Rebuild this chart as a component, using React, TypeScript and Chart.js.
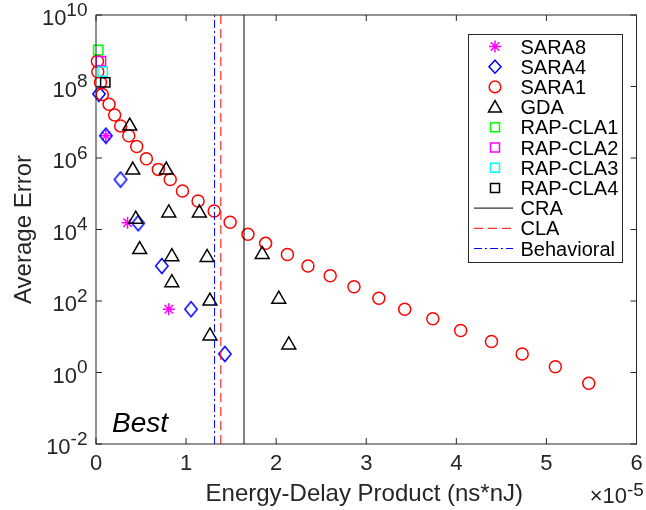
import { useEffect, useRef } from "react";
import { Chart, registerables } from "chart.js";

Chart.register(...registerables);

// Energy-delay product in units of 1e-5 ns*nJ, average error on a log axis
const sara8Edp = [0.11, 0.35, 0.808];
const sara8Err = [4.2e6, 1.55e4, 59];

const sara4Edp = [0.033, 0.11, 0.272, 0.469, 0.731, 1.055, 1.43];
const sara4Err = [6.2e7, 4.2e6, 2.5e5, 1.5e4, 955, 59, 3.3];

const sara1Edp = [
  0.016, 0.02, 0.05, 0.07, 0.145, 0.207, 0.274, 0.364, 0.452, 0.559,
  0.692, 0.824, 0.96, 1.133, 1.312, 1.489, 1.687, 1.883, 2.125, 2.353,
  2.6, 2.864, 3.14, 3.427, 3.739, 4.048, 4.39, 4.731, 5.099, 5.47,
];
const sara1Err = [
  5.1e8, 2.6e8, 1.3e8, 6.0e7, 3.2e7, 1.6e7, 7.9e6, 4.2e6, 2.1e6, 9.5e5,
  4.8e5, 2.5e5, 1.2e5, 6.3e4, 3.3e4, 1.6e4, 7.4e3, 4.1e3, 2.0e3, 950,
  510, 250, 120, 59, 32, 15, 7.4, 3.3, 1.45, 0.5,
];

const gdaEdp = [
  0.375, 0.408, 0.78, 0.441, 0.808, 1.147, 0.485, 0.842, 1.233, 0.842,
  1.265, 1.265, 1.845, 2.029, 2.14,
];
const gdaErr = [
  7.8e6, 4.6e5, 4.6e5, 1.95e4, 2.9e4, 2.9e4, 2.75e3, 1.74e3, 1.66e3, 324,
  100, 10.5, 2.0e3, 112, 5.9,
];

const rapCla1 = { edp: 0.025, err: 1.05e9 };
const rapCla2 = { edp: 0.055, err: 5.1e8 };
const rapCla3 = { edp: 0.074, err: 2.6e8 };
const rapCla4 = { edp: 0.103, err: 1.3e8 };

// Reference designs drawn as vertical lines
const craEdp = 1.643;
const claEdp = 1.386;
const behavioralEdp = 1.316;

const xMin = 0;
const xMax = 6;
const xTicks = [0, 1, 2, 3, 4, 5, 6];
const xExponent = -5;
const yTickExponents = [-2, 0, 2, 4, 6, 8, 10];

const FONT = '"Liberation Sans", Arial, Helvetica, sans-serif';
const AXIS = "#262626";

const pts = (xs: number[], ys: number[]) => xs.map((x, i) => ({ x, y: ys[i] }));
const vline = (x: number) => [
  { x, y: 10 ** yTickExponents[0] },
  { x, y: 10 ** yTickExponents[yTickExponents.length - 1] },
];

function diamondImage(color: string) {
  const c = document.createElement("canvas");
  c.width = 16;
  c.height = 18;
  const g = c.getContext("2d")!;
  g.strokeStyle = color;
  g.lineWidth = 1.5;
  g.beginPath();
  g.moveTo(8, 1.5);
  g.lineTo(14.2, 9);
  g.lineTo(8, 16.5);
  g.lineTo(1.8, 9);
  g.closePath();
  g.stroke();
  return c;
}

type MarkerKind = "star" | "diamond" | "circle" | "triangle" | "square" | "line";

interface LegendEntry {
  label: string;
  kind: MarkerKind;
  color: string;
  dash?: number[];
}

const legendEntries: LegendEntry[] = [
  { label: "SARA8", kind: "star", color: "#ff00ff" },
  { label: "SARA4", kind: "diamond", color: "#0000ff" },
  { label: "SARA1", kind: "circle", color: "#ff0000" },
  { label: "GDA", kind: "triangle", color: "#000000" },
  { label: "RAP-CLA1", kind: "square", color: "#00ff00" },
  { label: "RAP-CLA2", kind: "square", color: "#ff00ff" },
  { label: "RAP-CLA3", kind: "square", color: "#00ffff" },
  { label: "RAP-CLA4", kind: "square", color: "#000000" },
  { label: "CRA", kind: "line", color: "#000000" },
  { label: "CLA", kind: "line", color: "#ff0000", dash: [9, 5] },
  { label: "Behavioral", kind: "line", color: "#0000ff", dash: [8, 3, 2, 3] },
];

function drawMarker(ctx: CanvasRenderingContext2D, e: LegendEntry, x: number, y: number) {
  ctx.save();
  ctx.strokeStyle = e.color;
  ctx.lineWidth = 1.5;
  ctx.beginPath();
  switch (e.kind) {
    case "star":
      for (let k = 0; k < 4; k++) {
        const a = (k * Math.PI) / 4;
        ctx.moveTo(x - Math.cos(a) * 6, y - Math.sin(a) * 6);
        ctx.lineTo(x + Math.cos(a) * 6, y + Math.sin(a) * 6);
      }
      break;
    case "diamond":
      ctx.moveTo(x, y - 6.5);
      ctx.lineTo(x + 6, y);
      ctx.lineTo(x, y + 6.5);
      ctx.lineTo(x - 6, y);
      ctx.closePath();
      break;
    case "circle":
      ctx.arc(x, y, 5.8, 0, Math.PI * 2);
      break;
    case "triangle":
      ctx.moveTo(x, y - 6.5);
      ctx.lineTo(x + 6.5, y + 5);
      ctx.lineTo(x - 6.5, y + 5);
      ctx.closePath();
      break;
    case "square":
      ctx.rect(x - 4.5, y - 4.5, 9, 9);
      break;
    case "line":
      ctx.lineWidth = 1;
      ctx.setLineDash(e.dash ?? []);
      ctx.moveTo(474, y);
      ctx.lineTo(513, y);
      break;
  }
  ctx.stroke();
  ctx.restore();
}

const framePlugin = {
  id: "matlabFrame",
  afterDraw(chart: Chart) {
    const { ctx, chartArea } = chart;
    const xs = chart.scales.x;
    const ys = chart.scales.y;
    const { left, right, top, bottom } = chartArea;
    ctx.save();

    // axes box
    ctx.strokeStyle = AXIS;
    ctx.lineWidth = 1;
    ctx.strokeRect(left, top, right - left, bottom - top);

    // inward ticks on all four sides
    ctx.beginPath();
    for (const t of xTicks) {
      const px = xs.getPixelForValue(t);
      ctx.moveTo(px, bottom);
      ctx.lineTo(px, bottom - 6);
      ctx.moveTo(px, top);
      ctx.lineTo(px, top + 6);
    }
    for (const e of yTickExponents) {
      const py = ys.getPixelForValue(10 ** e);
      ctx.moveTo(left, py);
      ctx.lineTo(left + 6, py);
      ctx.moveTo(right, py);
      ctx.lineTo(right - 6, py);
    }
    ctx.stroke();

    // x tick labels
    ctx.fillStyle = AXIS;
    ctx.font = `22px ${FONT}`;
    ctx.textAlign = "center";
    ctx.textBaseline = "alphabetic";
    for (const t of xTicks) {
      ctx.fillText(String(t), xs.getPixelForValue(t), 470);
    }

    // y tick labels as powers of ten
    for (const e of yTickExponents) {
      const py = ys.getPixelForValue(10 ** e);
      ctx.font = `19px ${FONT}`;
      ctx.textAlign = "right";
      const expStr = String(e);
      const w = ctx.measureText(expStr).width;
      ctx.fillText(expStr, left - 8.5, py + 0.5);
      ctx.font = `22px ${FONT}`;
      ctx.fillText("10", left - 8.5 - w, py + 10);
    }

    // x axis multiplier
    ctx.font = `19px ${FONT}`;
    ctx.textAlign = "left";
    ctx.fillText(String(xExponent), 627, 496);
    ctx.font = `22px ${FONT}`;
    ctx.textAlign = "right";
    ctx.fillText("\u00d710", 627, 503);

    // axis titles
    ctx.font = `24px ${FONT}`;
    ctx.textAlign = "center";
    ctx.fillText("Energy-Delay Product (ns*nJ)", (left + right) / 2 - 2, 501);
    ctx.save();
    ctx.translate(31, (top + bottom) / 2);
    ctx.rotate(-Math.PI / 2);
    ctx.fillText("Average Error", 0, 0);
    ctx.restore();

    // annotation
    ctx.fillStyle = "#000";
    ctx.font = `italic 28px ${FONT}`;
    ctx.textAlign = "left";
    ctx.fillText("Best", 112, 432);

    // legend
    const bx = 468.5;
    const by = 34.5;
    ctx.fillStyle = "#fff";
    ctx.fillRect(bx, by, 154, 228);
    ctx.strokeStyle = "#262626";
    ctx.lineWidth = 1;
    ctx.strokeRect(bx, by, 154, 228);
    ctx.font = `20px ${FONT}`;
    ctx.textAlign = "left";
    legendEntries.forEach((e, i) => {
      const ry = 46.5 + i * 20.2;
      drawMarker(ctx, e, 495, ry);
      ctx.fillStyle = "#000";
      ctx.fillText(e.label, 520.5, ry + 7);
    });

    ctx.restore();
  },
};

export default function App() {
  const canvasRef = useRef<HTMLCanvasElement | null>(null);

  useEffect(() => {
    const canvas = canvasRef.current;
    if (!canvas) return;

    const marker = (color: string, pointStyle: any, radius: number) => ({
      type: "scatter" as const,
      showLine: false,
      clip: false,
      borderColor: color,
      backgroundColor: "rgba(0,0,0,0)",
      pointBorderColor: color,
      pointBackgroundColor: "rgba(0,0,0,0)",
      pointStyle,
      pointRadius: radius,
      pointBorderWidth: 1.5,
      pointHoverRadius: radius,
    });
    const line = (color: string, dash: number[]) => ({
      type: "scatter" as const,
      showLine: true,
      borderColor: color,
      borderWidth: 1,
      borderDash: dash,
      pointRadius: 0,
      pointHoverRadius: 0,
      fill: false,
    });

    const series: any[] = [
      { label: "SARA8", data: pts(sara8Edp, sara8Err), ...marker("#ff00ff", "star", 6) },
      { label: "SARA4", data: pts(sara4Edp, sara4Err), ...marker("#0000ff", diamondImage("#0000ff"), 7) },
      { label: "SARA1", data: pts(sara1Edp, sara1Err), ...marker("#ff0000", "circle", 6) },
      { label: "GDA", data: pts(gdaEdp, gdaErr), ...marker("#000000", "triangle", 8) },
      { label: "RAP-CLA1", data: [{ x: rapCla1.edp, y: rapCla1.err }], ...marker("#00ff00", "rect", 6.6) },
      { label: "RAP-CLA2", data: [{ x: rapCla2.edp, y: rapCla2.err }], ...marker("#ff00ff", "rect", 6.6) },
      { label: "RAP-CLA3", data: [{ x: rapCla3.edp, y: rapCla3.err }], ...marker("#00ffff", "rect", 6.6) },
      { label: "RAP-CLA4", data: [{ x: rapCla4.edp, y: rapCla4.err }], ...marker("#000000", "rect", 6.6) },
      { label: "CRA", data: vline(craEdp), ...line("#000000", []) },
      { label: "CLA", data: vline(claEdp), ...line("#ff0000", [9, 5]) },
      { label: "Behavioral", data: vline(behavioralEdp), ...line("#0000ff", [8, 3, 2, 3]) },
    ];
    // later series are painted on top
    series.forEach((s, i) => (s.order = series.length - i));

    const chart = new Chart(canvas, {
      type: "scatter",
      data: { datasets: series },
      options: {
        responsive: false,
        animation: false,
        devicePixelRatio: 1,
        layout: { padding: { left: 96, top: 15, right: 6, bottom: 66 } },
        plugins: {
          legend: { display: false },
          tooltip: { enabled: false },
        },
        scales: {
          x: {
            type: "linear",
            min: xMin,
            max: xMax,
            display: false,
          },
          y: {
            type: "logarithmic",
            min: 10 ** yTickExponents[0],
            max: 10 ** yTickExponents[yTickExponents.length - 1],
            display: false,
          },
        },
      },
      plugins: [framePlugin],
    });

    return () => chart.destroy();
  }, []);

  return (
    <div style={{ position: "fixed", left: 0, top: 0, width: 646, height: 510, background: "#fff" }}>
      <canvas ref={canvasRef} width={646} height={510} style={{ display: "block", width: 646, height: 510 }} />
    </div>
  );
}
